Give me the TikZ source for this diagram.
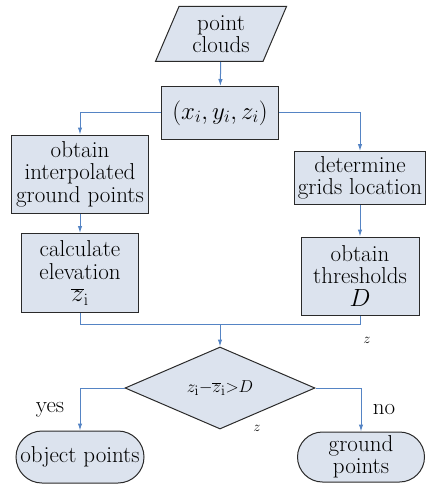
\documentclass[tikz,border=0pt]{standalone}
\usetikzlibrary{shapes.geometric,shapes.misc,arrows.meta}
\definecolor{boxfill}{HTML}{DCE3EE}
\definecolor{linecol}{HTML}{5584C4}
\definecolor{bordercol}{HTML}{2A2A2A}
\begin{document}
\begin{tikzpicture}[x=1pt,y=-1pt,
  base/.style={draw=bordercol, fill=boxfill, line width=1pt, align=center, inner sep=0.5pt,
    font={\fontsize{23}{22.5}\selectfont}},
  box/.style={base, rectangle},
  conn/.style={draw=linecol, line width=1pt},
  arr/.style={conn, -{Latex[length=7pt,width=4.5pt]}},
  lbl/.style={font={\fontsize{23}{23}\selectfont}, inner sep=0pt},
  zl/.style={font={\fontsize{15}{16}\selectfont}, inner sep=0pt}]
\useasboundingbox (0,0) rectangle (434,484);
\node[base, trapezium, trapezium left angle=67, trapezium right angle=113,
  trapezium stretches=true, minimum width=132, minimum height=55] (pc) at (221,34) {point\\clouds};
\node[box, minimum width=117, minimum height=53] (xyz) at (220,113) {$(x_i,y_i,z_i)$};
\node[box, minimum width=137, minimum height=78] (oig) at (80,174) {obtain\\interpolated\\ground points};
\node[box, minimum width=117, minimum height=79] (ce) at (80,273) {calculate\\elevation\\$\overline{z}_\mathrm{i}$};
\node[box, minimum width=131, minimum height=53] (dgl) at (360,178) {determine\\grids location};
\node[box, minimum width=118, minimum height=78] (ot) at (360,276) {obtain\\thresholds\\$D$};
\node[base, diamond, aspect=2.3, minimum width=190, minimum height=82, inner sep=0pt,
  font={\fontsize{19}{20}\selectfont}] (dia) at (220,388)
  {$z_\mathrm{i}{-}\overline{z}_\mathrm{i}{>}D$};
\node[base, rounded rectangle, minimum width=129, minimum height=52] (op) at (80,457) {object points};
\node[base, rounded rectangle, minimum width=128, minimum height=50] (gp) at (361,457) {ground\\points};
\coordinate (m) at (220,324);
\node[lbl] (yes) at (50,410) {yes};
\node[lbl] (no) at (384,410) {no};
\node[zl] (z1) at (367,340) {$z$};
\node[zl] (z2) at (257,428) {$z$};
\draw[arr] (pc) -- (xyz);
\draw[arr] (xyz.west) -| (oig.north);
\draw[arr] (xyz.east) -| (dgl.north);
\draw[arr] (oig) -- (ce);
\draw[arr] (dgl) -- (ot);
\draw[conn] (ce.south) |- (m);
\draw[conn] (ot.south) |- (m);
\draw[arr] (m) -- (dia.north);
\draw[arr] (dia.west) -| (op.north);
\draw[arr] (dia.east) -| (gp.north);
\end{tikzpicture}
\end{document}
